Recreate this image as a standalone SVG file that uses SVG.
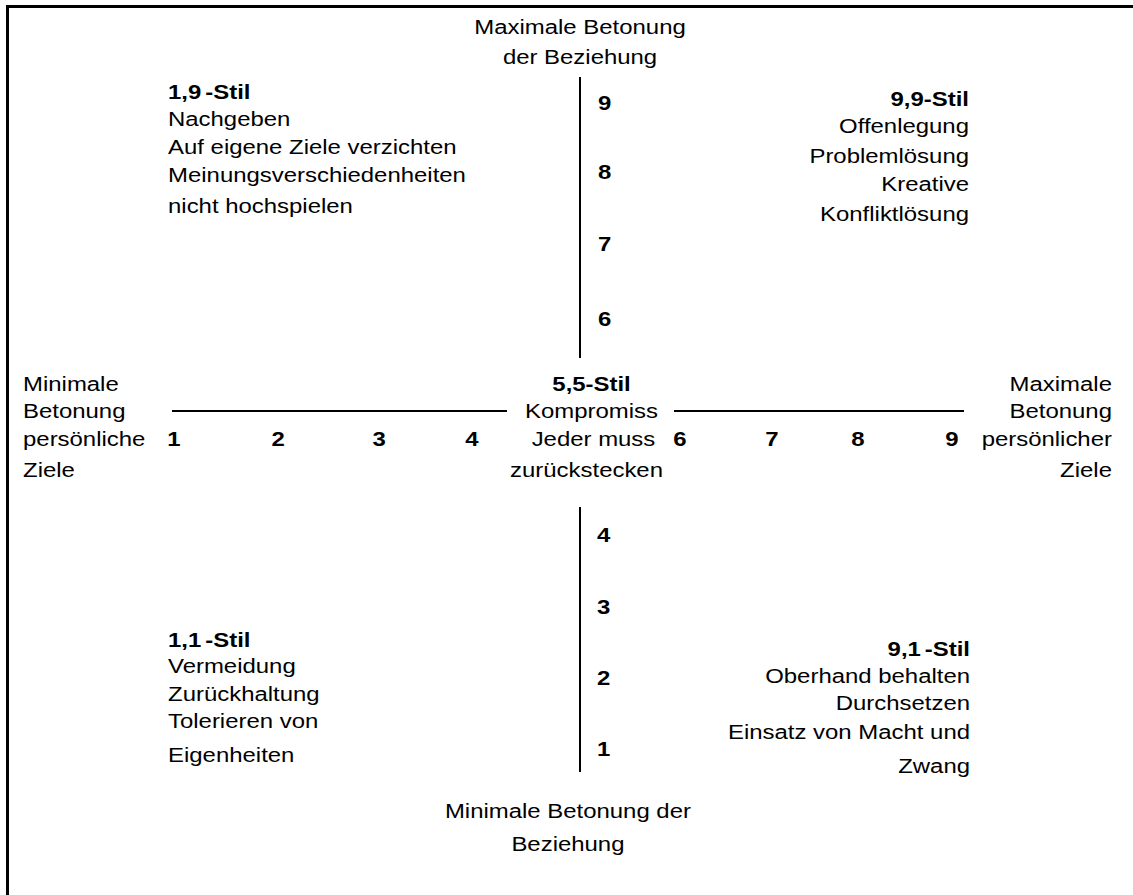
<svg xmlns="http://www.w3.org/2000/svg" width="1133" height="895" viewBox="0 0 1133 895">
  <style>
    text { font-family: "Liberation Sans", Arial, sans-serif; font-size: 21px; fill: #000; }
    .b { font-weight: bold; }
    .m { text-anchor: middle; }
    .e { text-anchor: end; }
    .axis { stroke: #000; stroke-width: 2; fill: none; }
    .frame { stroke: #000; stroke-width: 3; fill: none; }
  </style>

  <rect width="1133" height="895" fill="#fff"/>

  <!-- open frame: top and left edges -->
  <g id="frame">
    <path class="frame" d="M7.5 895 V6.5 H1133"/>
  </g>

  <!-- axes of the grid -->
  <g id="connectors">
    <line class="axis" x1="580" y1="77" x2="580" y2="358"/>
    <line class="axis" x1="580" y1="507" x2="580" y2="772"/>
    <line class="axis" x1="172" y1="411" x2="507" y2="411"/>
    <line class="axis" x1="674" y1="411" x2="964" y2="411"/>
  </g>

  <!-- all lettering is set 1.14x wide; x values below are in the scaled space -->
  <g id="label-top" transform="scale(1.14 1)">
    <text class="m" x="508.8" y="34">Maximale Betonung</text>
    <text class="m" x="508.8" y="64">der Beziehung</text>
  </g>

  <g id="style-1-9" transform="scale(1.14 1)">
    <text class="b" x="147.4" y="99">1,9<tspan dx="3.5">-Stil</tspan></text>
    <text x="147.4" y="126">Nachgeben</text>
    <text x="147.4" y="154">Auf eigene Ziele verzichten</text>
    <text x="147.4" y="182">Meinungsverschiedenheiten</text>
    <text x="147.4" y="213">nicht hochspielen</text>
  </g>

  <g id="style-9-9" transform="scale(1.14 1)">
    <text class="b e" x="850" y="106">9,9-Stil</text>
    <text class="e" x="850" y="133">Offenlegung</text>
    <text class="e" x="850" y="163">Problemlösung</text>
    <text class="e" x="850" y="191">Kreative</text>
    <text class="e" x="850" y="221">Konfliktlösung</text>
  </g>

  <g id="scale-upper" transform="scale(1.14 1)">
    <text class="b" x="524.6" y="110">9</text>
    <text class="b" x="524.6" y="179">8</text>
    <text class="b" x="524.6" y="251">7</text>
    <text class="b" x="524.6" y="326">6</text>
  </g>

  <g id="label-left" transform="scale(1.14 1)">
    <text x="20.2" y="391">Minimale</text>
    <text x="20.2" y="418">Betonung</text>
    <text x="20.2" y="446">persönliche</text>
    <text x="20.2" y="477">Ziele</text>
  </g>

  <g id="style-5-5" transform="scale(1.14 1)">
    <text class="b m" x="518.9" y="391">5,5-Stil</text>
    <text class="m" x="518.9" y="418">Kompromiss</text>
    <text class="m" x="520.6" y="446">Jeder muss</text>
    <text class="m" x="514.5" y="477">zurückstecken</text>
  </g>

  <g id="label-right" transform="scale(1.14 1)">
    <text class="e" x="975.4" y="391">Maximale</text>
    <text class="e" x="975.4" y="418">Betonung</text>
    <text class="e" x="975.4" y="446">persönlicher</text>
    <text class="e" x="975.4" y="477">Ziele</text>
  </g>

  <g id="scale-horizontal" transform="scale(1.14 1)">
    <text class="b m" x="152.6" y="446">1</text>
    <text class="b m" x="243.9" y="446">2</text>
    <text class="b m" x="332.5" y="446">3</text>
    <text class="b m" x="414.0" y="446">4</text>
    <text class="b m" x="596.5" y="446">6</text>
    <text class="b m" x="677.2" y="446">7</text>
    <text class="b m" x="752.6" y="446">8</text>
    <text class="b m" x="835.1" y="446">9</text>
  </g>

  <g id="scale-lower" transform="scale(1.14 1)">
    <text class="b" x="523.7" y="542">4</text>
    <text class="b" x="523.7" y="614">3</text>
    <text class="b" x="523.7" y="685">2</text>
    <text class="b" x="523.7" y="756">1</text>
  </g>

  <g id="style-1-1" transform="scale(1.14 1)">
    <text class="b" x="147.4" y="647">1,1<tspan dx="3.5">-Stil</tspan></text>
    <text x="147.4" y="673">Vermeidung</text>
    <text x="147.4" y="701">Zurückhaltung</text>
    <text x="147.4" y="728">Tolerieren von</text>
    <text x="147.4" y="762">Eigenheiten</text>
  </g>

  <g id="style-9-1" transform="scale(1.14 1)">
    <text class="b e" x="850.9" y="656">9,1<tspan dx="3.5">-Stil</tspan></text>
    <text class="e" x="850.9" y="683">Oberhand behalten</text>
    <text class="e" x="850.9" y="710">Durchsetzen</text>
    <text class="e" x="850.9" y="739">Einsatz von Macht und</text>
    <text class="e" x="850.9" y="773">Zwang</text>
  </g>

  <g id="label-bottom" transform="scale(1.14 1)">
    <text class="m" x="498.2" y="818">Minimale Betonung der</text>
    <text class="m" x="498.2" y="851">Beziehung</text>
  </g>
</svg>
